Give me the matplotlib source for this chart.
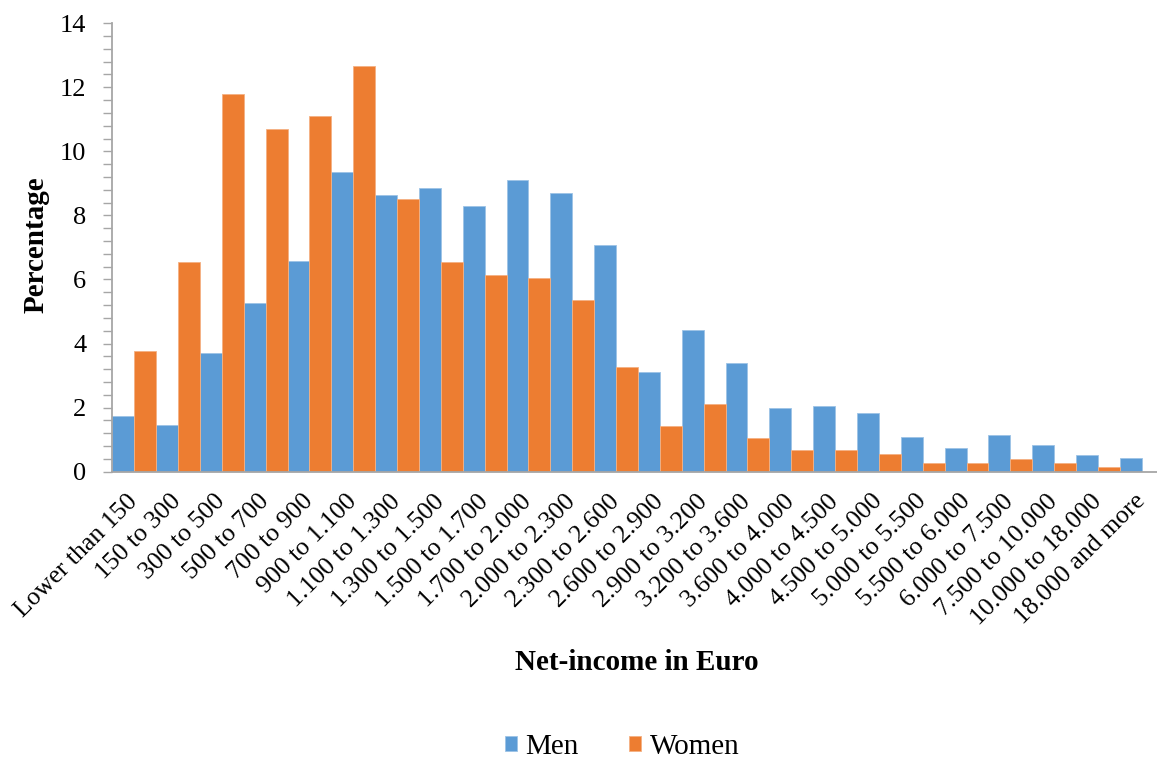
import numpy as np
import matplotlib
matplotlib.use('Agg')
import matplotlib.pyplot as plt

categories = ['Lower than 150', '150 to 300', '300 to 500', '500 to 700', '700 to 900',
              '900 to 1.100', '1.100 to 1.300', '1.300 to 1.500', '1.500 to 1.700',
              '1.700 to 2.000', '2.000 to 2.300', '2.300 to 2.600', '2.600 to 2.900',
              '2.900 to 3.200', '3.200 to 3.600', '3.600 to 4.000', '4.000 to 4.500',
              '4.500 to 5.000', '5.000 to 5.500', '5.500 to 6.000', '6.000 to 7.500',
              '7.500 to 10.000', '10.000 to 18.000', '18.000 and more']
men = [1.74, 1.46, 3.70, 5.26, 6.59, 9.35, 8.63, 8.86, 8.30, 9.10, 8.70, 7.07,
       3.10, 4.41, 3.38, 1.98, 2.06, 1.82, 1.07, 0.74, 1.15, 0.83, 0.51, 0.42]
women = [3.78, 6.54, 11.78, 10.71, 11.10, 12.66, 8.50, 6.54, 6.14, 6.04, 5.35, 3.26,
         1.42, 2.10, 1.06, 0.67, 0.67, 0.54, 0.26, 0.26, 0.39, 0.26, 0.15, 0.0]

plt.rcParams['font.family'] = ['Liberation Serif', 'DejaVu Serif']

fig = plt.figure(figsize=(11.57, 7.62), dpi=100)
ax = fig.add_axes([0.0971, 0.381, 0.903, 0.5885])

x = np.arange(len(categories))
ax.bar(x - 0.25, men, width=0.5, color='#5B9BD5', edgecolor='#9DC3E6', linewidth=0.6, label='Men')
ax.bar(x + 0.25, women, width=0.5, color='#ED7D31', edgecolor='#F4B183', linewidth=0.6, label='Women')

ax.set_xlim(-0.5, -0.5 + 1044.7 / 43.8)
ax.set_ylim(0, 14)
ax.set_yticks(np.arange(0, 14.01, 2))
ax.set_yticks(np.arange(0, 14.01, 0.4), minor=True)
ax.tick_params(axis='y', which='both', length=6.8, width=1, color='#A6A6A6',
               labelsize=19, pad=12)
ax.set_xticks(x)
ax.set_xticklabels(categories, rotation=45, ha='right', va='center',
                   rotation_mode='anchor', fontsize=18.5)
ax.tick_params(axis='x', length=0, pad=19)

for side in ['top', 'right']:
    ax.spines[side].set_visible(False)
for side in ['left', 'bottom']:
    ax.spines[side].set_color('#A6A6A6')
    ax.spines[side].set_linewidth(1.3)

fig.text(0.031, 1 - 245 / 762, 'Percentage', rotation=90, ha='center', va='center',
         fontsize=21, fontweight='bold')
fig.text(637 / 1157, 1 - 663 / 762, 'Net-income in Euro', ha='center', va='center',
         fontsize=21, fontweight='bold')

handles, labels = ax.get_legend_handles_labels()
fig.legend(handles, labels, loc='center', bbox_to_anchor=(622 / 1157, 1 - 747 / 762),
           ncol=2, frameon=False, fontsize=21, handlelength=0.42, handleheight=0.42,
           handletextpad=0.3, columnspacing=1.7)

fig.savefig('out.png', dpi=100)
